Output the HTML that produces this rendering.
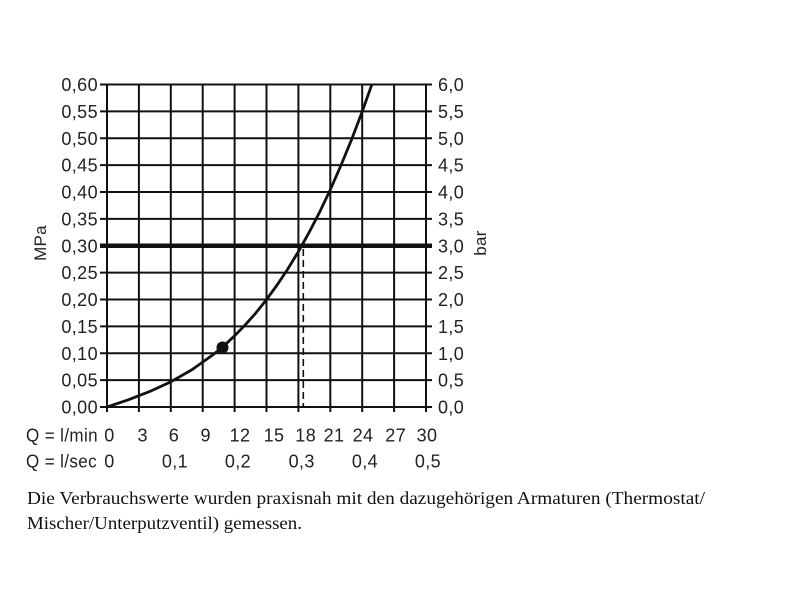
<!DOCTYPE html>
<html>
<head>
<meta charset="utf-8">
<style>
  html, body { margin:0; padding:0; background:#fff; }
  svg { display:block; }
  .t { font-family:"Liberation Sans", "DejaVu Sans", sans-serif; font-size:18px; fill:#222; letter-spacing:0.4px; }
  .s { font-family:"Liberation Serif", "DejaVu Serif", serif; font-size:18px; fill:#111; }
</style>
</head>
<body>
<svg width="800" height="600" viewBox="0 0 800 600" xmlns="http://www.w3.org/2000/svg">
  <defs>
    <clipPath id="plot"><rect x="107" y="84.5" width="319" height="323"/></clipPath>
  </defs>
  <rect width="800" height="600" fill="#fff"/>

  <!-- grid verticals -->
  <g stroke="#111" stroke-width="2">
    <line x1="107" y1="84.5" x2="107" y2="412"/>
    <line x1="138.9" y1="84.5" x2="138.9" y2="412"/>
    <line x1="170.8" y1="84.5" x2="170.8" y2="412"/>
    <line x1="202.7" y1="84.5" x2="202.7" y2="412"/>
    <line x1="234.6" y1="84.5" x2="234.6" y2="412"/>
    <line x1="266.5" y1="84.5" x2="266.5" y2="412"/>
    <line x1="298.4" y1="84.5" x2="298.4" y2="412"/>
    <line x1="330.3" y1="84.5" x2="330.3" y2="412"/>
    <line x1="362.2" y1="84.5" x2="362.2" y2="412"/>
    <line x1="394.1" y1="84.5" x2="394.1" y2="412"/>
    <line x1="426" y1="84.5" x2="426" y2="412"/>
  </g>
  <!-- grid horizontals -->
  <g stroke="#111" stroke-width="2">
    <line x1="100" y1="84.5" x2="432" y2="84.5"/>
    <line x1="100" y1="111.4" x2="432" y2="111.4"/>
    <line x1="100" y1="138.3" x2="432" y2="138.3"/>
    <line x1="100" y1="165.1" x2="432" y2="165.1"/>
    <line x1="100" y1="192" x2="432" y2="192"/>
    <line x1="100" y1="218.9" x2="432" y2="218.9"/>
    <line x1="100" y1="272.6" x2="432" y2="272.6"/>
    <line x1="100" y1="299.5" x2="432" y2="299.5"/>
    <line x1="100" y1="326.4" x2="432" y2="326.4"/>
    <line x1="100" y1="353.3" x2="432" y2="353.3"/>
    <line x1="100" y1="380.1" x2="432" y2="380.1"/>
    <line x1="100" y1="407" x2="432" y2="407"/>
  </g>
  <!-- thick 0.30 line -->
  <line x1="100" y1="245.8" x2="432" y2="245.8" stroke="#111" stroke-width="4.5"/>

  <!-- dashed -->
  <line x1="303.3" y1="249" x2="303.3" y2="406" stroke="#111" stroke-width="1.6" stroke-dasharray="7,4"/>

  <!-- curve -->
  <path clip-path="url(#plot)" fill="none" stroke="#111" stroke-width="2.8" stroke-linejoin="round"
    d="M107,407 L128.3,399.8 L149.5,391.6 L170.8,381.8 L192.1,369.6 L213.3,354.5 L224,345.7 L234.6,335.8 L245.2,324.9 L255.9,312.9 L266.5,299.6 L277.1,285 L287.8,269 L298.4,251.6 L309,232.6 L319.7,212 L330.3,189.7 L340.9,165.5 L351.6,139.5 L362.2,111.6 L370.7,87.7 L372.8,81.6"/>
  <circle cx="222.5" cy="347.5" r="6" fill="#111"/>

  <!-- left labels -->
  <g class="t" text-anchor="end">
    <text x="98" y="91">0,60</text>
    <text x="98" y="117.9">0,55</text>
    <text x="98" y="144.8">0,50</text>
    <text x="98" y="171.6">0,45</text>
    <text x="98" y="198.5">0,40</text>
    <text x="98" y="225.4">0,35</text>
    <text x="98" y="252.3">0,30</text>
    <text x="98" y="279.1">0,25</text>
    <text x="98" y="306">0,20</text>
    <text x="98" y="332.9">0,15</text>
    <text x="98" y="359.8">0,10</text>
    <text x="98" y="386.6">0,05</text>
    <text x="98" y="413.5">0,00</text>
  </g>
  <!-- right labels -->
  <g class="t">
    <text x="438" y="91">6,0</text>
    <text x="438" y="117.9">5,5</text>
    <text x="438" y="144.8">5,0</text>
    <text x="438" y="171.6">4,5</text>
    <text x="438" y="198.5">4,0</text>
    <text x="438" y="225.4">3,5</text>
    <text x="438" y="252.3">3,0</text>
    <text x="438" y="279.1">2,5</text>
    <text x="438" y="306">2,0</text>
    <text x="438" y="332.9">1,5</text>
    <text x="438" y="359.8">1,0</text>
    <text x="438" y="386.6">0,5</text>
    <text x="438" y="413.5">0,0</text>
  </g>

  <!-- axis titles -->
  <text class="t" transform="translate(46,243) rotate(-90)" text-anchor="middle" style="font-size:17px;letter-spacing:0.3px">MPa</text>
  <text class="t" transform="translate(486,243) rotate(-90)" text-anchor="middle" style="font-size:17px;letter-spacing:0.3px">bar</text>

  <!-- x labels row 1 -->
  <text class="t" x="26" y="441.5" textLength="72" lengthAdjust="spacingAndGlyphs">Q = l/min</text>
  <g class="t" text-anchor="middle">
    <text x="109.5" y="441.5">0</text>
    <text x="142.7" y="441.5">3</text>
    <text x="174" y="441.5">6</text>
    <text x="205.7" y="441.5">9</text>
    <text x="240" y="441.5">12</text>
    <text x="274" y="441.5">15</text>
    <text x="305.7" y="441.5">18</text>
    <text x="334" y="441.5">21</text>
    <text x="363" y="441.5">24</text>
    <text x="395.7" y="441.5">27</text>
    <text x="427" y="441.5">30</text>
  </g>
  <!-- x labels row 2 -->
  <text class="t" x="26" y="467.5" textLength="71" lengthAdjust="spacingAndGlyphs">Q = l/sec</text>
  <g class="t" text-anchor="middle">
    <text x="109.5" y="467.5">0</text>
    <text x="175" y="467.5">0,1</text>
    <text x="238" y="467.5">0,2</text>
    <text x="301.7" y="467.5">0,3</text>
    <text x="365" y="467.5">0,4</text>
    <text x="428" y="467.5">0,5</text>
  </g>

  <!-- footnote -->
  <text class="s" x="27" y="504" textLength="678" lengthAdjust="spacingAndGlyphs">Die Verbrauchswerte wurden praxisnah mit den dazugehörigen Armaturen (Thermostat/</text>
  <text class="s" x="27" y="529" textLength="275" lengthAdjust="spacingAndGlyphs">Mischer/Unterputzventil) gemessen.</text>
</svg>
</body>
</html>
